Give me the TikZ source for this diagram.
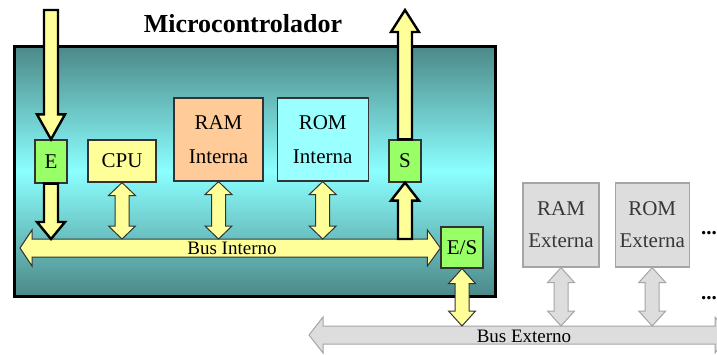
\documentclass[tikz,border=0pt]{standalone}
\usepackage{fontspec}
\setmainfont{Liberation Serif}
\usetikzlibrary{positioning,calc}

\definecolor{tealdark}{RGB}{76,136,136}
\definecolor{cyanlight}{RGB}{140,255,255}
\definecolor{busyellow}{RGB}{255,255,153}
\definecolor{iogreen}{RGB}{153,255,102}
\definecolor{ramorange}{RGB}{255,204,153}
\definecolor{romcyan}{RGB}{153,255,255}
\definecolor{extgray}{RGB}{221,221,221}
\definecolor{extline}{RGB}{165,165,165}
\definecolor{exttext}{RGB}{55,55,55}

% fat arrow: style, tail, tip, head length
\newcommand{\fatarrow}[4]{%
  \filldraw[#1] let \p1=#2, \p2=#3, \p3=($#3!#4!#2$) in
    (\x1-7pt,\y1) -- (\x1-7pt,\y3) -- (\x1-14pt,\y3) -- (\x1,\y2)
    -- (\x1+14pt,\y3) -- (\x1+7pt,\y3) -- (\x1+7pt,\y1) -- cycle;}
% fat double arrow: style, end A, end B, head length
\newcommand{\fatdarrow}[4]{%
  \filldraw[#1] let \p1=#2, \p2=#3, \p3=($#2!#4!#3$), \p4=($#3!#4!#2$) in
    (\x1,\y1) -- (\x1+13.5pt,\y3) -- (\x1+7pt,\y3) -- (\x1+7pt,\y4)
    -- (\x1+13.5pt,\y4) -- (\x1,\y2) -- (\x1-13.5pt,\y4) -- (\x1-7pt,\y4)
    -- (\x1-7pt,\y3) -- (\x1-13.5pt,\y3) -- cycle;}

\begin{document}
\begin{tikzpicture}[
    x=1pt, y=-1pt,
    txt/.style={font=\fontsize{21}{34}\selectfont},
    unit/.style={draw=black!80, line width=1.2pt, inner sep=0pt, align=center, txt},
    extunit/.style={unit, draw=extline, fill=extgray, text=exttext, minimum width=76pt, minimum height=84pt, font=\fontsize{21}{32}\selectfont},
    mcubox/.style={draw=black, line width=3pt, inner sep=0pt, minimum width=481pt, minimum height=250pt,
        top color=tealdark, bottom color=tealdark, middle color=cyanlight},
    busshape/.style={fill=busyellow, draw=black!80, line width=1pt},
    extbus/.style={fill=extgray, draw=extline, line width=1pt},
    ioarrow/.style={fill=busyellow, draw=black, line width=2.4pt},
    datarrow/.style={fill=busyellow, draw=black!80, line width=1pt},
    extarrow/.style={fill=extgray, draw=extline, line width=1pt},
    buslabel/.style={font=\fontsize{19}{22}\selectfont, inner sep=0pt},
]
    \useasboundingbox (0,0) rectangle (717,354);
    \clip (0,0) rectangle (717,354);

    % Microcontrolador
    \node[mcubox] (mcu) at (254.5,171) {};
    \node[font=\fontsize{26}{30}\selectfont\bfseries, anchor=base] (title) at (243,32) {Microcontrolador};

    % internal blocks
    \node[unit, fill=iogreen, minimum width=32pt, minimum height=43pt] (E) at (51,161.5) {E};
    \node[unit, fill=busyellow, minimum width=68pt, minimum height=42pt] (cpu) at (122,161) {CPU};
    \node[unit, fill=ramorange, minimum width=89pt, minimum height=83pt] (ramint) at (218.5,139.5) {RAM\\Interna};
    \node[unit, fill=romcyan, minimum width=91pt, minimum height=83pt, right=13pt of ramint] (romint) {ROM\\Interna};
    \node[unit, fill=iogreen, minimum width=32pt, minimum height=42pt] (S) at (405,161) {S};
    \node[unit, fill=iogreen, minimum width=42pt, minimum height=41pt] (ES) at (462,247.5) {E/S};

    % Bus Interno
    \coordinate (busL) at (20,248);
    \coordinate (busTop) at (0,239);
    \filldraw[busshape] let \p1=(busL), \p2=(ES.west) in
        (\x1,\y1) -- (\x1+12pt,\y1+18pt) -- (\x1+12pt,\y1+9pt) -- (\x2-13pt,\y1+9pt)
        -- (\x2-13pt,\y1+18pt) -- (\x2,\y1) -- (\x2-13pt,\y1-18pt) -- (\x2-13pt,\y1-9pt)
        -- (\x1+12pt,\y1-9pt) -- (\x1+12pt,\y1-18pt) -- cycle;
    \node[buslabel] (busintlabel) at (232,248) {Bus Interno};

    % E and S
    \fatarrow{ioarrow}{(E.north |- 0,10)}{(E.north)}{25pt}
    \fatarrow{ioarrow}{(E.south)}{(E.south |- busTop)}{17pt}
    \fatarrow{ioarrow}{(S.south |- busTop)}{(S.south)}{18pt}
    \fatarrow{ioarrow}{(S.north)}{(S.north |- 0,10)}{22pt}

    % block <-> bus
    \fatdarrow{datarrow}{(cpu.south)}{(cpu.south |- busTop)}{13pt}
    \fatdarrow{datarrow}{(ramint.south)}{(ramint.south |- busTop)}{13pt}
    \fatdarrow{datarrow}{(romint.south)}{(romint.south |- busTop)}{13pt}

    % external blocks
    \node[extunit] (ramext) at (561,225) {RAM\\Externa};
    \node[extunit, minimum width=74pt, right=15pt of ramext] (romext) {ROM\\Externa};
    \node[font=\fontsize{21}{25}\selectfont\bfseries, anchor=base west, inner sep=0pt] (moreA) at (701,234) {...};
    \node[font=\fontsize{21}{25}\selectfont\bfseries, anchor=base west, inner sep=0pt] (moreB) at (701,299) {...};

    % Bus Externo
    \coordinate (busEL) at (309,335);
    \coordinate (busER) at (729,335);
    \coordinate (busEtop) at (0,326);
    \filldraw[extbus] let \p1=(busEL), \p2=(busER) in
        (\x1,\y1) -- (\x1+14pt,\y1+18pt) -- (\x1+14pt,\y1+9pt) -- (\x2-14pt,\y1+9pt)
        -- (\x2-14pt,\y1+18pt) -- (\x2,\y1) -- (\x2-14pt,\y1-18pt) -- (\x2-14pt,\y1-9pt)
        -- (\x1+14pt,\y1-9pt) -- (\x1+14pt,\y1-18pt) -- cycle;
    \node[buslabel] (busextlabel) at (524,336) {Bus Externo};

    % external connections
    \fatdarrow{datarrow}{(ES.south)}{(ES.south |- busEtop)}{15pt}
    \fatdarrow{extarrow}{(ramext.south)}{(ramext.south |- busEtop)}{15pt}
    \fatdarrow{extarrow}{(romext.south)}{(romext.south |- busEtop)}{15pt}
\end{tikzpicture}
\end{document}
